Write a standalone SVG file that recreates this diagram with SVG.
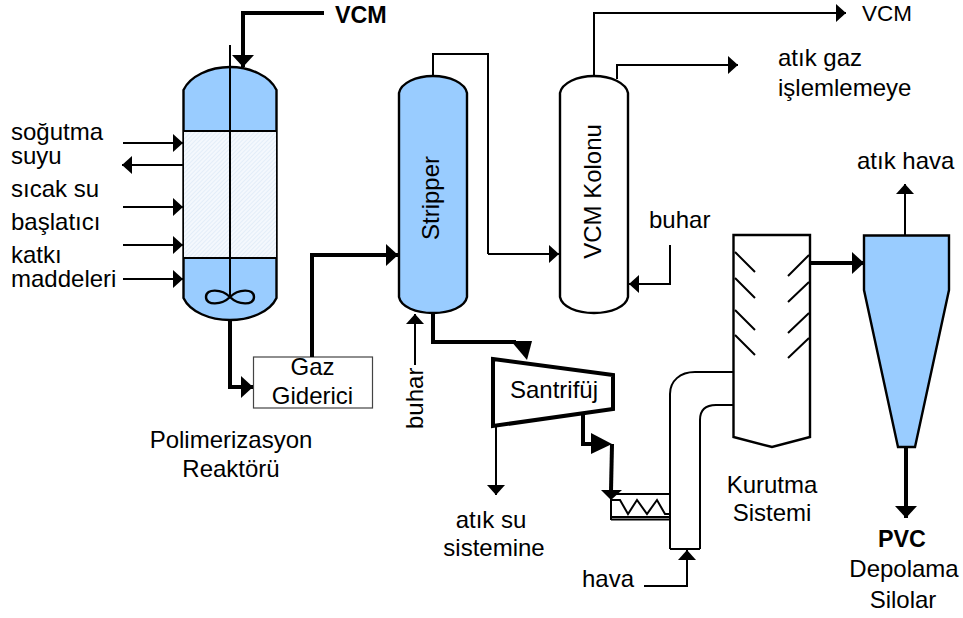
<svg xmlns="http://www.w3.org/2000/svg" width="963" height="618" viewBox="0 0 963 618">
<defs>
<pattern id="hatch" width="3" height="3" patternUnits="userSpaceOnUse" patternTransform="rotate(45)"><rect width="3" height="3" fill="#f4f8fd"/><line x1="0" y1="0" x2="0" y2="3" stroke="#d8e6f6" stroke-width="1.2"/></pattern>
<marker id="a" markerUnits="userSpaceOnUse" markerWidth="12" markerHeight="20" refX="10" refY="9" orient="auto"><path d="M0 0L10 9L0 18Z" fill="#000"/></marker>
<marker id="b" markerUnits="userSpaceOnUse" markerWidth="14" markerHeight="24" refX="12" refY="11" orient="auto"><path d="M0 0L12 11L0 22Z" fill="#000"/></marker>
</defs>
<style>
text{font-family:"Liberation Sans",Arial,sans-serif;font-size:24px;fill:#000}
.b{font-weight:bold;font-size:23.3px}
.s{font-size:22.5px}
.v{stroke:#000;stroke-width:2.4;fill:#fff}
.f{fill:#99ccff}
.m{fill:none;stroke:#000;stroke-width:2;marker-end:url(#a)}
.h{fill:none;stroke:#000;stroke-width:4;marker-end:url(#b)}
.k{fill:none;stroke:#000;stroke-width:4}
.l{fill:none;stroke:#000;stroke-width:2}
</style>
<rect width="963" height="618" fill="#fff"/>
<g id="reactor">
<path class="v f" d="M183.500 90C190 76 210 67 230 67C250 67 270 76 276.500 90V298C270 312 250 320 230 320C210 320 190 312 183.500 298Z"/>
<rect x="184" y="131" width="92" height="127" fill="url(#hatch)"/>
<path class="l" d="M184 131H276M184 258H276M230 45V297"/>
<path class="l" style="stroke-width:2.400" d="M230 297C222 289 206 288 206 297C206 306 222 305 230 297C238 289 254 288 254 297C254 306 238 305 230 297Z"/>
<text x="11" y="140">soğutma</text><text x="11" y="164">suyu</text><text x="11" y="197">sıcak su</text><text x="11" y="230">başlatıcı</text><text x="11" y="263">katkı</text><text x="11" y="287">maddeleri</text>
<text x="231" y="448" text-anchor="middle">Polimerizasyon</text><text x="231" y="477" text-anchor="middle">Reaktörü</text>
</g>
<g id="gaz-giderici">
<rect x="253.500" y="357" width="119" height="51" fill="#fff" stroke="#444" stroke-width="1.200"/>
<text x="312.500" y="375" text-anchor="middle">Gaz</text><text x="312.500" y="404" text-anchor="middle">Giderici</text>
</g>
<g id="stripper">
<path class="v f" d="M399 93C401 83 416 76 433 76C450 76 465 83 467 93V297C465 307 450 313 433 313C416 313 401 307 399 297Z"/>
<text transform="translate(439,198) rotate(-90)" text-anchor="middle">Stripper</text>
</g>
<g id="vcm-kolonu">
<path class="v" d="M560 93C562 83 577 76 594 76C611 76 626 83 628 93V297C626 307 611 313 594 313C577 313 562 307 560 297Z"/>
<text transform="translate(601,191.500) rotate(-90)" text-anchor="middle">VCM Kolonu</text>
</g>
<g id="santrifuj">
<path d="M493 359L613 375V409L493 426Z" fill="#fff" stroke="#000" stroke-width="4"/>
<text x="554" y="398" text-anchor="middle">Santrifüj</text>
</g>
<g id="kurutma">
<path class="v" d="M733.500 235H810V437L772 447L733.500 437Z"/>
<path class="l" d="M735 252L755 272M735 278L755 298M735 310L755 330M735 335L755 355M809 255L788 276M809 282L788 302M809 313L788 333M809 338L788 358"/>
<text x="772" y="493" text-anchor="middle">Kurutma</text><text x="772" y="521" text-anchor="middle">Sistemi</text>
</g>
<g id="siklon">
<path class="v f" d="M864 235.500H949V290L915 447H898L864 290Z"/>
</g>
<g id="kanal">
<path class="l" d="M670 549V394C670 381 680 372 695 372H733M700 549V420C700 410 706 405 716 405H733M670 549H700"/>
</g>
<g id="isitici">
<path class="l" d="M611 494H670M611 517H670M611 519.500H670M611 494V520"/>
<path class="l" d="M612 500H620L628 514L637 500L647 514L657 500L665 514H670"/>
</g>
<g id="labels">
<text x="335" y="23" class="b">VCM</text><text x="862" y="20.500" class="s">VCM</text>
<text x="778" y="66">atık gaz</text><text x="778" y="96">işlemlemeye</text>
<text x="649" y="228">buhar</text><text x="857" y="169">atık hava</text>
<text x="902" y="547" class="b" text-anchor="middle">PVC</text><text x="904" y="577" text-anchor="middle">Depolama</text><text x="903" y="608" text-anchor="middle">Silolar</text>
<text x="491" y="528" text-anchor="middle">atık su</text><text x="494" y="556" text-anchor="middle">sistemine</text>
<text x="582" y="587">hava</text>
<text transform="translate(423,429) rotate(-90)">buhar</text>
</g>
<g id="connectors">
<path class="h" d="M324 13H243V67"/>
<path class="m" d="M123 143H183"/><path class="m" d="M183 165H122"/><path class="m" d="M123 207H183"/><path class="m" d="M123 245H183"/><path class="m" d="M123 279H183"/>
<path class="h" d="M230 321V387H253"/>
<path class="h" d="M312 357V255H398"/>
<path class="l" d="M433 75V54H488V254"/><path class="m" d="M488 254H559"/>
<path class="m" d="M594 75V13H846"/>
<path class="m" d="M617 79V65H738"/>
<path class="m" d="M670 245V284H629"/>
<path class="m" d="M415 365V314"/>
<path class="k" d="M433 314V342H516"/>
<path d="M511 341H532L527 360Z" fill="#000"/>
<path class="k" d="M583 415V444H595"/>
<path d="M591 433L612 444L591 454Z" fill="#000"/>
<path class="k" d="M612 444L611 491"/>
<path d="M601 490H622L611 500Z" fill="#000"/>
<path class="m" d="M496 427V495"/>
<path class="m" d="M644 586H687V550"/>
<path class="h" d="M810 263H864"/>
<path class="m" d="M905 235V184"/>
<path class="h" d="M906 447V518"/>
</g>
</svg>
